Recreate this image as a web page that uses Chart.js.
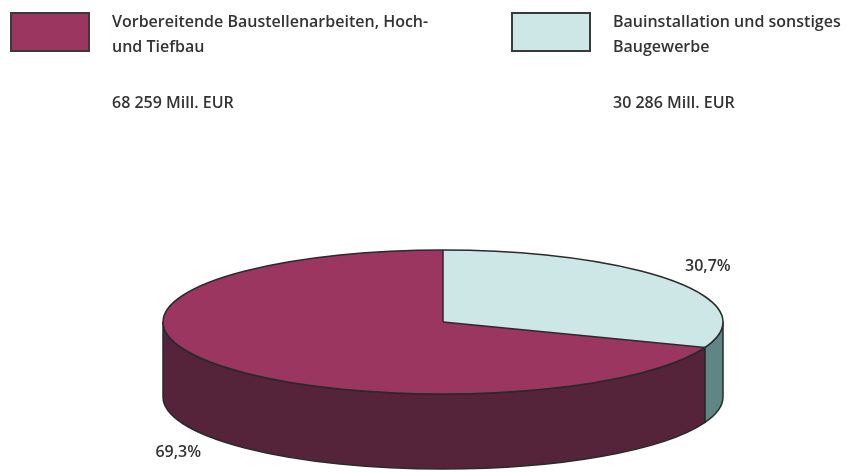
<!DOCTYPE html>
<html><head><meta charset="utf-8">
<script src="https://cdn.jsdelivr.net/npm/chart.js@4"></script>
<style>
body{margin:0;background:#fff;}
#wrap{position:relative;width:853px;height:472px;font-family:"Open Sans",sans-serif;color:#333;overflow:hidden}
canvas{position:absolute;left:0;top:0;}
.box{position:absolute;top:12px;width:76px;height:36px;border:2px solid #3a3a3a;}
.lab{position:absolute;font-size:16px;font-weight:600;line-height:25px;top:9px;white-space:nowrap}
.val{position:absolute;top:89px;font-size:16px;font-weight:600;line-height:26px;white-space:nowrap}
</style></head>
<body>
<div id="wrap"><canvas id="c" width="853" height="472"></canvas></div>
<script>
// ---- data ----
const categories = ["Vorbereitende Baustellenarbeiten, Hoch-\nund Tiefbau", "Bauinstallation und sonstiges\nBaugewerbe"];
const values = [68259, 30286];
const valueLabels = ["68 259 Mill. EUR", "30 286 Mill. EUR"];
const percentLabels = ["69,3%", "30,7%"];
const topColors = ["#9a3660", "#cde6e6"];
const sideColors = ["#55243a", "#608585"];

// ---- legend (HTML text) ----
const wrap = document.getElementById('wrap');
const legendX = [10, 511];
categories.forEach((c, i) => {
  const b = document.createElement('div'); b.className = 'box';
  b.style.left = legendX[i] + 'px'; b.style.background = topColors[i]; wrap.appendChild(b);
  const l = document.createElement('div'); l.className = 'lab';
  l.style.left = (legendX[i] + 102) + 'px'; l.innerHTML = c.replace('\n', '<br>'); wrap.appendChild(l);
  const v = document.createElement('div'); v.className = 'val';
  v.style.left = (legendX[i] + 102) + 'px'; v.textContent = valueLabels[i]; wrap.appendChild(v);
});

// ---- 3D pie geometry ----
const G = {cx: 443, cy: 322, rx: 280, ry: 72, depth: 75};
const total = values.reduce((a, b) => a + b, 0);

const pie3d = {
  id: 'pie3d',
  beforeDatasetsDraw(chart) {
    const ctx = chart.ctx, meta = chart.getDatasetMeta(0);
    const a0 = meta.data[0];
    const {cx, cy, rx, ry, depth} = G;
    ctx.save();
    ctx.lineWidth = 1.5; ctx.strokeStyle = '#2a2a2a'; ctx.lineJoin = 'round';
    meta.data.forEach((arc, i) => {
      const s = arc.startAngle, e = arc.endAngle;
      for (let k = -1; k <= 1; k++) {
        const lo = Math.max(s, 2 * Math.PI * k), hi = Math.min(e, 2 * Math.PI * k + Math.PI);
        if (hi <= lo) continue;
        ctx.beginPath();
        ctx.ellipse(cx, cy, rx, ry, 0, lo, hi, false);
        ctx.lineTo(cx + rx * Math.cos(hi), cy + ry * Math.sin(hi) + depth);
        ctx.ellipse(cx, cy + depth, rx, ry, 0, hi, lo, true);
        ctx.closePath();
        ctx.fillStyle = sideColors[i]; ctx.fill(); ctx.stroke();
      }
    });
    ctx.restore();
    ctx.save();
    ctx.translate(cx, cy);
    ctx.scale(rx / a0.outerRadius, ry / a0.outerRadius);
    ctx.translate(-a0.x, -a0.y);
  },
  afterDatasetsDraw(chart) {
    const ctx = chart.ctx, meta = chart.getDatasetMeta(0);
    ctx.restore();
    const {cx, cy, rx, ry, depth} = G;
    ctx.save();
    ctx.lineWidth = 1.5; ctx.strokeStyle = '#2a2a2a';
    ctx.beginPath(); ctx.ellipse(cx, cy, rx, ry, 0, 0, 2 * Math.PI); ctx.stroke();
    meta.data.forEach(arc => {
      ctx.beginPath(); ctx.moveTo(cx, cy);
      ctx.lineTo(cx + rx * Math.cos(arc.startAngle), cy + ry * Math.sin(arc.startAngle));
      ctx.stroke();
    });
    ctx.fillStyle = '#333'; ctx.font = '600 16px "Open Sans"';
    ctx.textAlign = 'center'; ctx.textBaseline = 'middle';
    meta.data.forEach((arc, i) => {
      const m = (arc.startAngle + arc.endAngle) / 2;
      const sy = Math.sin(m);
      const x = cx + rx * Math.cos(m) * 1.15;
      const y = cy + ry * sy * 1.35 + (sy > 0 ? depth : 0);
      ctx.fillText(percentLabels[i], x, y);
    });
    ctx.restore();
  }
};

new Chart(document.getElementById('c'), {
  type: 'pie',
  data: {
    labels: categories,
    datasets: [{data: values, backgroundColor: topColors, borderWidth: 0}]
  },
  options: {
    responsive: false, animation: false,
    rotation: values[1] / total * 360,
    layout: {padding: 20},
    plugins: {legend: {display: false}, tooltip: {enabled: false}}
  },
  plugins: [pie3d]
});
</script>
</body></html>
